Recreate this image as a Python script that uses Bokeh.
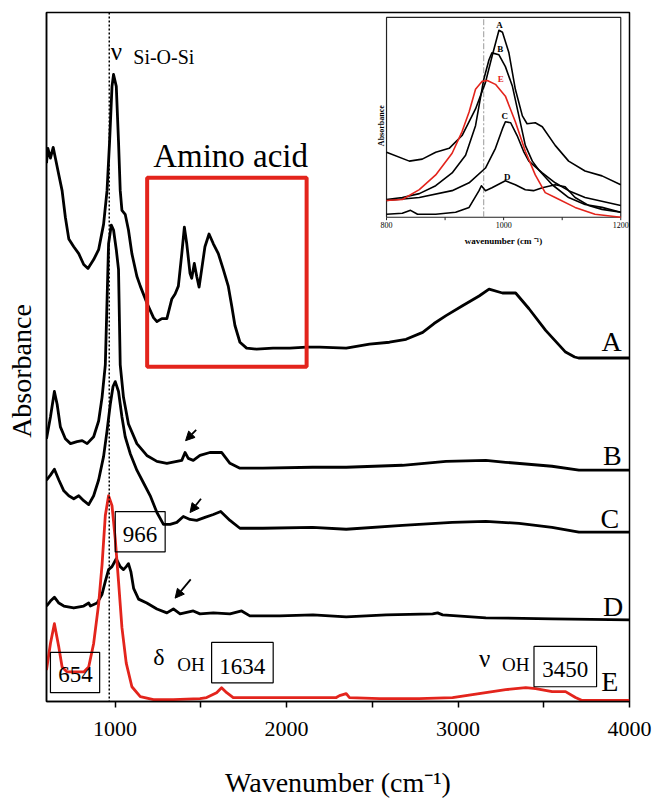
import math
from bokeh.plotting import figure
from bokeh.models import (Range1d, FixedTicker, Label, BoxAnnotation, Span,
                          Arrow, NormalHead)
from bokeh.core.properties import value
from bokeh.embed import file_html
from bokeh.resources import INLINE

SERIF = "Liberation Serif"
RED = "#e3241c"

# ---------------- main spectra (wavenumber, stacked absorbance, a.u.) ----------------
wn_A = [600, 608, 623, 639, 652, 672, 691, 710, 730, 759, 788, 817, 842, 875, 904,
        933, 953, 968, 982, 991, 1007, 1020, 1030, 1040, 1059, 1078, 1098, 1127, 1147, 1185,
        1224, 1244, 1273, 1302, 1331, 1350, 1369, 1389, 1404, 1418, 1437, 1447, 1462, 1476, 1490,
        1505, 1524, 1548, 1573, 1602, 1631, 1660, 1680, 1699, 1728, 1767, 1825, 1921, 2019, 2116,
        2193, 2348, 2484, 2600, 2697, 2794, 2860, 2930, 3026, 3123, 3181, 3259, 3336, 3414, 3511,
        3627, 3680, 3703, 4000]
ab_A = [547, 562, 552, 563, 552, 535, 519, 492, 470, 462, 455, 444, 440, 449, 459,
        485, 519, 569, 625, 637, 625, 569, 519, 499, 495, 479, 455, 432, 422, 405,
        390, 386, 389, 389, 409, 414, 422, 455, 482, 465, 435, 430, 445, 432, 421,
        439, 462, 475, 465, 455, 439, 422, 402, 382, 365, 359, 358, 359, 359, 360,
        360, 359, 363, 365, 368, 375, 384, 392, 402, 412, 419, 415, 415, 399, 377,
        355, 350, 349, 349]

wn_B = [600, 623, 646, 662, 681, 710, 740, 778, 808, 837, 875, 904, 924, 943, 962,
        978, 991, 1007, 1020, 1030, 1049, 1078, 1127, 1185, 1244, 1302, 1360, 1389, 1408, 1427,
        1456, 1495, 1553, 1621, 1670, 1728, 1862, 2152, 2348, 2676, 2930, 3162, 3278, 3548, 3705,
        4000]
ab_B = [267, 289, 315, 302, 279, 267, 262, 264, 265, 262, 269, 285, 309, 342, 465,
        484, 479, 459, 439, 342, 309, 282, 262, 250, 244, 242, 244, 245, 253, 247,
        245, 250, 253, 253, 242, 237, 237, 238, 238, 240, 244, 245, 243, 239, 235,
        235]

wn_C = [600, 623, 646, 672, 701, 730, 759, 788, 817, 846, 875, 904, 933, 953, 972,
        988, 1001, 1020, 1040, 1059, 1088, 1127, 1166, 1205, 1244, 1282, 1321, 1360, 1398, 1437,
        1476, 1524, 1573, 1616, 1670, 1728, 1862, 2152, 2348, 2676, 2966, 3162, 3356, 3548, 3705,
        4000]
ab_C = [225, 230, 236, 225, 214, 209, 206, 209, 204, 200, 209, 225, 249, 275, 302,
        320, 325, 315, 289, 269, 252, 235, 222, 209, 192, 180, 180, 182, 188, 185,
        184, 187, 190, 193, 184, 176, 176, 177, 175, 179, 182, 183, 181, 177, 172,
        172]

wn_D = [600, 623, 646, 672, 701, 759, 817, 846, 856, 895, 924, 943, 962, 982, 1007,
        1030, 1049, 1065, 1078, 1092, 1108, 1137, 1185, 1244, 1302, 1340, 1379, 1456, 1495, 1573,
        1670, 1738, 1786, 1960, 2154, 2348, 2581, 2852, 2881, 2910, 3162, 3548, 4000]
ab_D = [97, 102, 106, 100, 97, 95, 97, 100, 97, 100, 109, 122, 134, 137, 145,
        137, 134, 137, 140, 132, 115, 104, 100, 94, 90, 94, 89, 92, 89, 90,
        89, 92, 87, 87, 88, 86, 88, 89, 90, 88, 85, 84, 83]

wn_E = [600, 623, 646, 672, 691, 720, 759, 817, 846, 875, 904, 924, 943, 962, 982,
        1001, 1020, 1040, 1065, 1098, 1147, 1224, 1340, 1495, 1534, 1592, 1621, 1651, 1689, 2000,
        2290, 2309, 2348, 2367, 2542, 2774, 2968, 3123, 3278, 3395, 3453, 3549, 3627, 3685, 3724,
        4000]
ab_E = [32, 59, 79, 55, 35, 30, 30, 30, 35, 59, 99, 139, 189, 209, 199,
        165, 122, 75, 39, 15, 5, 2, 2, 3, 4, 9, 14, 9, 4, 4,
        4, 6, 8, 4, 3, 3, 4, 8, 12, 14, 13, 10, 10, 4, 1,
        1]

series_names = ["A", "B", "C", "D", "E"]

# ---------------- inset spectra (800-1200 cm-1) ----------------
in_wn_A = [800, 839, 861, 884, 907, 929, 952, 969, 980, 992, 998, 1009, 1020, 1032, 1040,
           1054, 1066, 1088, 1111, 1139, 1168, 1200]
in_A = [66, 57, 59, 66, 70, 83, 110, 137, 163, 190, 188, 167, 130, 103, 95,
        96, 92, 73, 57, 47, 42, 33]
in_wn_B = [800, 827, 856, 884, 912, 935, 952, 966, 975, 980, 992, 1003, 1015, 1026, 1037,
           1049, 1060, 1083, 1111, 1139, 1168, 1200]
in_B = [18, 20, 24, 32, 45, 63, 93, 140, 160, 167, 165, 153, 133, 103, 73,
        57, 48, 33, 20, 13, 10, 5]
in_wn_C = [800, 856, 912, 941, 969, 986, 998, 1003, 1012, 1023, 1034, 1043, 1066, 1088, 1111,
           1139, 1200]
in_C = [17, 20, 27, 35, 50, 70, 90, 97, 96, 83, 67, 57, 45, 35, 27,
        20, 12]
in_wn_D = [800, 827, 841, 853, 884, 918, 941, 958, 962, 969, 980, 1003, 1020, 1037, 1051,
           1066, 1088, 1105, 1122, 1145, 1168, 1200]
in_D = [3, 4, 7, 3, 3, 5, 10, 27, 32, 27, 30, 37, 33, 28, 27,
        30, 33, 31, 20, 12, 8, 5]
in_wn_E = [800, 827, 856, 884, 912, 929, 941, 952, 963, 972, 986, 1003, 1020, 1037, 1054,
           1071, 1088, 1122, 1156, 1200]
in_E = [17, 18, 28, 43, 65, 87, 107, 130, 138, 139, 135, 123, 97, 67, 43,
        25, 20, 10, 3, 0]

inset_ticks = [800, 900, 1000, 1100, 1200]
inset_tick_labels = ["800", "1000", "1200"]

# ---------------- main figure ----------------
p = figure(width=655, height=800, x_range=Range1d(600, 4000), y_range=Range1d(0, 700),
           output_backend="svg", toolbar_location=None,
           min_border_left=46, min_border_right=26, min_border_top=12, min_border_bottom=88)
p.grid.visible = False
p.background_fill_color = "white"
p.border_fill_color = "white"
p.outline_line_color = "black"
p.outline_line_width = 1.5

xa = p.xaxis[0]
xa.ticker = FixedTicker(ticks=[1000, 2000, 3000, 4000], minor_ticks=[1500, 2500, 3500])
xa.axis_line_color = "black"
xa.axis_line_width = 1.5
xa.major_tick_line_color = "black"
xa.major_tick_line_width = 1.5
xa.minor_tick_line_color = "black"
xa.minor_tick_line_width = 1.5
xa.major_tick_in = 0
xa.major_tick_out = 6
xa.minor_tick_in = 0
xa.minor_tick_out = 6
xa.major_label_text_font = SERIF
xa.major_label_text_font_size = "22px"
xa.major_label_text_color = "black"
xa.major_label_standoff = 14
xa.axis_label = "Wavenumber (cm\u207b\u00b9)"
xa.axis_label_text_font = SERIF
xa.axis_label_text_font_size = "28px"
xa.axis_label_text_font_style = "normal"
xa.axis_label_text_color = "black"
xa.axis_label_standoff = 28

ya = p.yaxis[0]
ya.ticker = FixedTicker(ticks=[])
ya.axis_line_color = "black"
ya.axis_line_width = 1.5
ya.major_tick_line_color = None
ya.minor_tick_line_color = None
# trailing no-break spaces nudge the visible title slightly below the frame centre
ya.axis_label = "Absorbance" + "\u00a0" * 4
ya.axis_label_text_font = SERIF
ya.axis_label_text_font_size = "28px"
ya.axis_label_text_font_style = "normal"
ya.axis_label_text_color = "black"
ya.axis_label_standoff = 10


def txt_label(x, y, text, size, align="left", color="black"):
    # y is the wanted text baseline; small lift compensates Bokeh's baseline placement
    p.add_layout(Label(x=x, y=y + 0.15 * size + 2.5, text=text, text_font=SERIF,
                       text_font_size=f"{size}px", text_color=color,
                       text_align=align, text_baseline="alphabetic"))


# dotted 966 line
p.add_layout(Span(location=966, dimension="height", line_color="black",
                  line_dash="2 2", line_width=1.5))

# spectra
for xs, ys in [(wn_A, ab_A), (wn_B, ab_B), (wn_C, ab_C), (wn_D, ab_D)]:
    p.line(xs, ys, line_color="black", line_width=2.8, line_join="round")
p.line(wn_E, ab_E, line_color=RED, line_width=2.8, line_join="round")

# series labels
lab_pos = {"A": (3895, 359), "B": (3900, 243), "C": (3885, 179), "D": (3905, 90), "E": (3885, 14)}
for n in series_names:
    x, y = lab_pos[n]
    txt_label(x, y, n, 28, align="center")

# Si-O-Si annotation
txt_label(975, 654, "\u03bd", 25)
txt_label(1106, 649, "Si-O-Si", 20)

# amino acid box
txt_label(1222, 547, "Amino acid", 33)
p.add_layout(BoxAnnotation(left=1187, right=2117, bottom=340, top=532,
                           fill_alpha=0, line_color=RED, line_alpha=1, line_width=4))

# arrows
for (xs0, ys0, xs1, ys1) in [(1473, 276, 1411, 265), (1501, 206, 1437, 192), (1441, 124, 1350, 105)]:
    p.add_layout(Arrow(end=NormalHead(size=9, fill_color="black", line_color="black"),
                       x_start=xs0, y_start=ys0, x_end=xs1, y_end=ys1,
                       line_color="black", line_width=1.8))

# boxed numbers
boxes = [
    ("966", 1001, 1292, 152, 193, 1146, 164),
    ("654", 623, 910, 9, 50, 769, 21),
    ("1634", 1563, 1922, 19, 60, 1742, 30),
    ("3450", 3443, 3808, 15, 56, 3625, 27),
]
for txt, l, r, b, t, tx, ty in boxes:
    p.add_layout(BoxAnnotation(left=l, right=r, bottom=b, top=t, fill_alpha=0,
                               line_color="black", line_alpha=1, line_width=1.2))
    txt_label(tx, ty, txt, 23, align="center")

# delta OH / nu OH
txt_label(1222, 39, "\u03b4", 24)
txt_label(1362, 32, "OH", 19)
txt_label(3123, 37, "\u03bd", 25)
txt_label(3257, 32, "OH", 19)

# ---------------- inset via sub-coordinates ----------------
IX0, IX1, IY0, IY1 = 800, 1200, 0, 203
ins = p.subplot(x_source=Range1d(IX0, IX1), y_source=Range1d(IY0, IY1),
                x_target=Range1d(2583, 3949), y_target=Range1d(492, 695))

ins.line(x=[IX0, IX1, IX1, IX0, IX0], y=[IY0, IY0, IY1, IY1, IY0],
         line_color="#222222", line_width=1.2)
ins.segment(x0=[966], y0=[IY0], x1=[966], y1=[IY1], line_color="#999999",
            line_width=1, line_dash="6 2 2 2")
ins.segment(x0=inset_ticks, y0=[IY0] * 5, x1=inset_ticks, y1=[IY0 - 3] * 5,
            line_color="#222222", line_width=1)
ins.text(x=[800, 1000, 1200], y=[IY0 - 5] * 3, text=inset_tick_labels,
         text_font=value(SERIF), text_font_size=value("8px"), text_color=value("#000000"),
         text_align=value("center"), text_baseline=value("top"))
ins.text(x=[1000], y=[IY0 - 19], text=["wavenumber (cm \u207b\u00b9)"],
         text_font=value(SERIF), text_font_size=value("9px"), text_font_style=value("bold"),
         text_color=value("#000000"), text_align=value("center"), text_baseline=value("top"))
ins.text(x=[791], y=[93], text=["Absorbance"], angle=math.pi / 2,
         text_font=value(SERIF), text_font_size=value("8px"), text_font_style=value("bold"),
         text_color=value("#000000"), text_align=value("center"), text_baseline=value("middle"))

for xs, ys in [(in_wn_A, in_A), (in_wn_B, in_B), (in_wn_C, in_C), (in_wn_D, in_D)]:
    ins.line(xs, ys, line_color="black", line_width=1.6, line_join="round")
ins.line(in_wn_E, in_E, line_color=RED, line_width=1.6, line_join="round")

in_lab = {"A": (993, 195, "#000000"), "B": (994, 171, "#000000"), "C": (1002, 103, "#000000"),
          "D": (1006, 41, "#000000"), "E": (995, 140, RED)}
for n in series_names:
    x, y, c = in_lab[n]
    ins.text(x=[x], y=[y], text=[n], text_font=value(SERIF), text_font_size=value("9px"),
             text_font_style=value("bold"), text_color=value(c),
             text_align=value("center"), text_baseline=value("middle"))

open("out.html", "w").write(file_html(p, INLINE))
